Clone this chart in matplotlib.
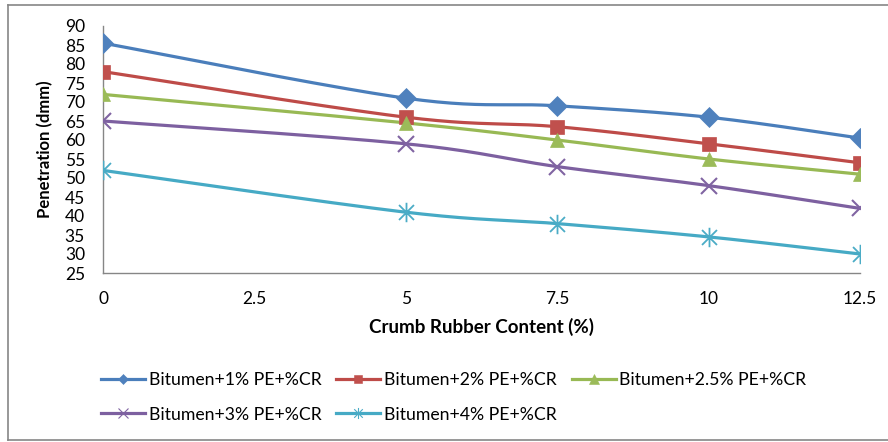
import numpy as np
import matplotlib
matplotlib.use("Agg")
import matplotlib.pyplot as plt
from matplotlib.path import Path
from matplotlib.lines import Line2D

plt.rcParams['font.family'] = ['Lato', 'DejaVu Sans']

# Data
crumb_rubber = [0, 5, 7.5, 10, 12.5]
series_names = [
    "Bitumen+1% PE+%CR",
    "Bitumen+2% PE+%CR",
    "Bitumen+2.5% PE+%CR",
    "Bitumen+3% PE+%CR",
    "Bitumen+4% PE+%CR",
]
pe_1 = [85.5, 71, 69, 66, 60.5]
pe_2 = [78, 66, 63.5, 59, 54]
pe_2_5 = [72, 64.5, 60, 55, 51]
pe_3 = [65, 59, 53, 48, 42]
pe_4 = [52, 41, 38, 34.5, 30]
x_ticks = [0, 2.5, 5, 7.5, 10, 12.5]
y_ticks = list(range(25, 95, 5))

line_colors = ["#4A7EBB", "#BE4B48", "#98B954", "#7D60A0", "#46AAC5"]
marker_colors = ["#4F81BD", "#C0504D", "#9BBB59", "#8064A2", "#4BACC6"]

# asterisk marker: an "x" plus a vertical stroke
star_path = Path(
    [(-1, -1), (1, 1), (-1, 1), (1, -1), (0, -1.3), (0, 1.3)],
    [Path.MOVETO, Path.LINETO, Path.MOVETO, Path.LINETO, Path.MOVETO, Path.LINETO],
)
markers = ["D", "s", "^", "x", star_path]
msizes = [10, 10, 10, 11, 14]
edge_widths = [0.5, 0.5, 0.5, 1.5, 1.3]
legend_msizes = [5.5, 5.5, 6.5, 7, 8]


def smooth(xs, ys, n=40):
    """Catmull-Rom style Bezier smoothing through the points."""
    p = np.column_stack([xs, ys]).astype(float)
    ext = np.vstack([p[0], p, p[-1]])
    out = []
    for i in range(len(p) - 1):
        p0, p1, p2, p3 = ext[i], ext[i + 1], ext[i + 2], ext[i + 3]
        c1 = p1 + (p2 - p0) / 6.0
        c2 = p2 - (p3 - p1) / 6.0
        t = np.linspace(0, 1, n)[:, None]
        seg = ((1 - t) ** 3) * p1 + 3 * ((1 - t) ** 2) * t * c1 + 3 * (1 - t) * t ** 2 * c2 + t ** 3 * p2
        out.append(seg if i == 0 else seg[1:])
    out = np.vstack(out)
    return out[:, 0], out[:, 1]


W, H = 888, 442
fig = plt.figure(figsize=(W / 100, H / 100), dpi=100)
ax = fig.add_axes([103 / W, 1 - 273 / H, (860 - 103) / W, (273 - 26) / H])

all_series = [pe_1, pe_2, pe_2_5, pe_3, pe_4]
handles = []
for vals, name, lc, mc, mk, ms, mew, lms in zip(all_series, series_names, line_colors,
                                                marker_colors, markers, msizes,
                                                edge_widths, legend_msizes):
    sx, sy = smooth(crumb_rubber, vals)
    ax.plot(sx, sy, color=lc, lw=2.3, solid_capstyle="round", zorder=2)
    ax.plot(crumb_rubber, vals, linestyle="none", marker=mk, markersize=ms,
            color=mc, markeredgecolor=mc, markeredgewidth=mew, zorder=3)
    handles.append(Line2D([], [], color=lc, lw=2.3, marker=mk, markersize=lms,
                          markerfacecolor=mc, markeredgecolor=mc,
                          markeredgewidth=0.8 if mew > 1 else 0.4, label=name))

ax.set_xlim(0, 12.5)
ax.set_ylim(25, 90)
ax.set_xticks(x_ticks)
ax.set_xticklabels([f"{v:g}" for v in x_ticks])
ax.set_yticks(y_ticks)
ax.tick_params(axis="both", length=0, labelsize=12.5, colors="#000000")
ax.tick_params(axis="y", pad=13)
ax.tick_params(axis="x", pad=13)
for side in ("top", "right"):
    ax.spines[side].set_visible(False)
for side in ("left", "bottom"):
    ax.spines[side].set_color("#868686")
    ax.spines[side].set_linewidth(1.0)

ax.set_xlabel("Crumb Rubber Content (%)", fontsize=13.5, fontweight="bold", labelpad=8)
ax.set_ylabel("Penetration (dmm)", fontsize=12, fontweight="bold", labelpad=8)

# legend laid out row by row in three columns
order = [0, 3, 1, 4, 2]
leg = fig.legend([handles[i] for i in order], [series_names[i] for i in order],
                 ncol=3, loc="upper left", bbox_to_anchor=(101 / W, 1 - 372 / H),
                 frameon=False, fontsize=12.7, handlelength=2.5, handletextpad=0.2,
                 columnspacing=0.85, labelspacing=1.05, borderpad=0, borderaxespad=0)

# chart-area border
for (x0, y0, x1, y1) in [(8, 5, 890, 5), (8, 5, 8, 440), (8, 440, 890, 440)]:
    fig.add_artist(Line2D([x0 / W, x1 / W], [1 - y0 / H, 1 - y1 / H],
                          color="#868686", lw=1.2, transform=fig.transFigure))

fig.savefig("out.png", dpi=100)
